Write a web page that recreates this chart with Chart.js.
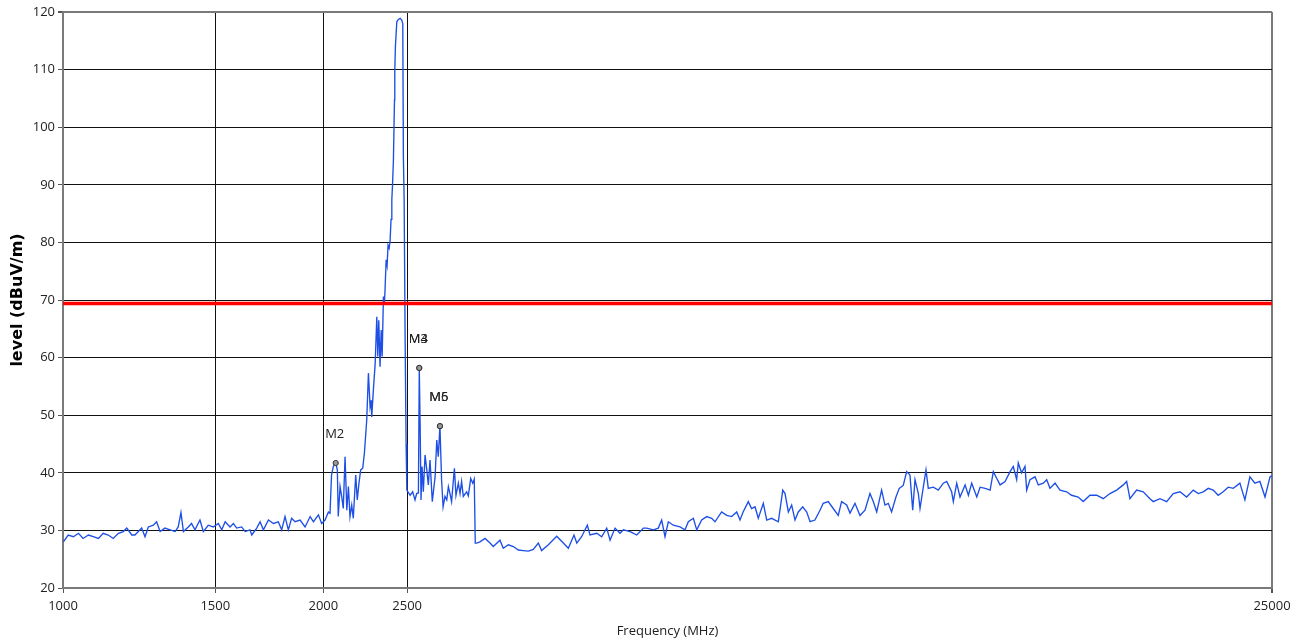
<!DOCTYPE html>
<html><head><meta charset="utf-8">
<script src="https://cdn.jsdelivr.net/npm/chart.js@4"></script>
<style>html,body{margin:0;padding:0;background:#fff;}#wrap{width:1303px;height:643px;}</style>
</head><body><div id="wrap"><canvas id="c" width="1303" height="643"></canvas></div>
<script>
const freqMHz = [
1001,1014,1028,1042,1055,1070,1084,1099,1113,1128,1143,1159,1174,1185,1201,1211,1222,1233,1244,1255,
1272,1283,1295,1312,1330,1348,1359,1369,1378,1396,1408,1421,1440,1453,1472,1492,1512,1526,1540,1560,
1574,1588,1609,1624,1645,1653,1675,1690,1705,1728,1751,1774,1790,1806,1822,1838,1855,1880,1905,1931,
1948,1974,1991,2009,2027,
2036,2044,2054,2067,2076,2081,2091,2100,2109,2119,2129,2138,2147,2157,2166,2180,2189,2199,2209,2221,2231,2245,
2255,2265,2271,2275,2285,2296,2306,2312,2318,2326,2333,2339,2347,2353,2357,2364,2370,2376,2383,2389,2395,2400,
2404,2410,2417,2419,2423,2432,2442,2454,2464,2471,2475,2480,2486,2493,2498,
2520,2537,2553,2564,2576,2582,2588,2594,2601,2610,2622,2634,2645,2657,2673,2693,2705,2716,2728,2740,2751,2765,
2778,2790,2802,2814,2835,2847,2865,2878,2890,2903,2929,2942,2961,2977,2989,2997,
3008,3035,3076,3117,3144,3201,3229,3273,3317,3361,3406,3452,3498,3545,3576,3641,3723,3789,3840,3898,3927,3978,
4039,4068,4142,4196,4253,4291,4348,4406,4446,4526,4607,4689,
4731,4815,4879,4923,4967,5011,5078,5169,5239,5285,5356,5405,5476,5550,5624,5674,5775,5853,5931,6012,6065,6115,
6200,6255,6312,6367,6453,6512,6598,6716,6796,6837,6898,6959,7021,7083,7167,7244,7308,7404,7504,7569,7671,7773,
7878,7948,8057,8128,8237,8347,8459,8572,8648,8727,8842,8921,9000,9080,9186,9267,9366,9452,9535,9605,9664,9750,
9794,9880,9951,10012,10146,10282,10420,10515,10654,10702,
10799,10894,11043,11140,11239,11392,11492,11647,11803,11905,12015,12121,12283,12448,12554,12668,12722,12835,
12952,13010,13125,13302,13419,13599,13722,13843,14030,14217,14470,14660,14924,15123,15396,15674,15952,16239,
16531,16826,16977,17127,17436,17745,18064,18224,18551,18885,19221,19566,19918,20272,20544,20820,21098,21377,
21663,21954,22249,22547,22953,23260,23572,23888,24208,24540,24869,25000
];
const levelDb = [
28.0,29.2,28.9,29.5,28.6,29.2,28.9,28.6,29.5,29.2,28.6,29.5,29.8,30.4,29.2,29.2,29.8,30.4,28.9,30.6,
30.9,31.5,29.8,30.4,30.1,29.8,30.6,33.1,29.8,30.6,31.2,30.1,31.8,29.8,30.9,30.6,31.2,30.1,31.5,30.6,
31.2,30.4,30.6,29.8,30.1,29.2,30.4,31.5,30.1,31.8,31.2,31.5,30.1,32.4,30.1,32.1,31.5,31.8,30.6,32.4,
31.5,32.7,31.2,31.8,33.2,
33.0,39.6,41.1,41.7,40.5,32.4,37.6,35.9,33.8,42.8,33.5,37.6,32.4,34.4,32.1,39.6,35.3,38.2,40.5,40.8,43.4,49.2,
57.3,51.5,52.6,49.7,54.4,59.0,67.1,60.2,66.5,58.4,64.8,60.2,70.6,69.4,71.7,77.0,76.0,79.5,79.0,80.3,84.0,87.4,
89.7,94.0,104.7,109.9,114.0,118.3,118.7,118.9,118.6,118.0,94.9,87.4,65.0,45.0,37.0,
36.1,36.7,35.3,36.4,36.5,58.2,48.0,35.3,41.1,36.7,43.1,40.5,37.9,42.2,35.0,39.3,45.7,42.8,48.1,38.8,34.1,35.9,
35.3,37.6,36.4,35.0,40.8,36.1,38.2,36.4,38.5,35.9,36.7,36.0,39.0,38.2,38.9,27.8,
27.8,28.0,28.6,27.8,27.2,28.3,26.9,27.5,27.2,26.6,26.5,26.4,26.7,27.8,26.5,27.5,29.0,27.8,26.9,29.2,27.8,28.9,
30.9,29.2,29.5,28.9,30.4,28.3,30.4,29.5,30.1,29.8,29.2,30.4,
30.4,30.1,30.4,31.8,28.9,31.5,30.9,30.6,30.1,31.5,32.1,30.1,31.8,32.4,32.1,31.5,33.2,32.6,32.4,33.2,31.8,33.2,
35.0,33.8,34.1,32.1,34.7,31.8,32.1,31.5,37.0,36.4,33.2,34.4,31.8,33.2,34.1,33.2,31.5,31.8,33.5,34.7,35.0,33.8,
32.6,35.0,34.4,33.0,34.7,32.6,33.5,36.4,35.0,33.2,37.0,34.4,34.7,33.2,35.8,37.3,37.8,40.2,39.6,33.5,38.8,36.4,
33.8,37.5,40.5,37.3,37.5,37.0,38.2,38.5,36.7,35.0,
38.2,35.8,37.9,36.1,38.2,35.8,37.5,37.3,37.0,40.2,39.0,37.9,38.5,40.2,41.1,38.8,41.7,40.0,
41.1,37.0,38.8,39.3,37.9,38.2,38.8,37.3,38.2,37.0,36.7,36.1,35.8,35.0,36.1,36.1,35.5,36.4,
37.0,37.9,38.5,35.5,37.0,36.7,35.5,35.0,35.5,35.0,36.4,36.7,35.8,37.0,36.4,36.7,37.3,37.0,
36.1,36.7,37.5,37.3,38.2,35.3,39.3,38.2,38.5,35.8,39.3,39.5
];
const limitFreq = [1000, 25000];
const limitLevel = [69.4, 69.4];
const markerFreq = [2067, 2582, 2582, 2728, 2728];
const markerLevel = [41.7, 58.2, 58.2, 48.1, 48.1];
const markerLabel = ['M2', 'M3', 'M4', 'M5', 'M6'];
const xTicks = [1000, 1500, 2000, 2500, 25000];
const yTicks = [20, 30, 40, 50, 60, 70, 80, 90, 100, 110, 120];

const FONT = "'Open Sans', 'Noto Sans', sans-serif";

const markerLabels = {
  id: 'markerLabels',
  afterDatasetsDraw(chart) {
    const {ctx, scales: {x, y}} = chart;
    ctx.save();
    ctx.font = "13px " + FONT;
    ctx.fillStyle = '#222';
    ctx.textAlign = 'center';
    ctx.textBaseline = 'middle';
    markerFreq.forEach((f, i) => {
      const px = x.getPixelForValue(f);
      const py = y.getPixelForValue(markerLevel[i]);
      ctx.fillText(markerLabel[i], px - 1, py - 29);
    });
    ctx.restore();
  }
};

new Chart(document.getElementById('c'), {
  type: 'line',
  data: {
    datasets: [
      {
        label: 'limit',
        data: limitFreq.map((f, i) => ({x: f, y: limitLevel[i]})),
        borderColor: '#ff0000', borderWidth: 3.5, pointRadius: 0, order: 0
      },
      {
        label: 'markers',
        data: markerFreq.map((f, i) => ({x: f, y: markerLevel[i]})),
        showLine: false, pointRadius: 2.6, pointBackgroundColor: '#9a9a9a',
        pointBorderColor: '#333', pointBorderWidth: 1, order: 1
      },
      {
        label: 'trace',
        data: freqMHz.map((f, i) => ({x: f, y: levelDb[i]})),
        borderColor: '#1d4fe6', borderWidth: 1.35, pointRadius: 0, tension: 0, order: 2
      }
    ]
  },
  options: {
    responsive: false, animation: false, devicePixelRatio: 1,
    layout: {padding: {top: 12, right: 31, left: 0, bottom: 0}},
    plugins: {legend: {display: false}, tooltip: {enabled: false}},
    scales: {
      x: {
        type: 'logarithmic', min: 1000, max: 25000,
        afterBuildTicks: s => { s.ticks = xTicks.map(v => ({value: v})); },
        afterFit: s => { s.height = 55; },
        ticks: {autoSkip: false, maxRotation: 0, padding: 5, color: '#222',
                font: {family: FONT, size: 13}, callback: v => String(v)},
        grid: {
          color: c => (c.tick && c.tick.value === 25000) ? '#7a7a7a' : '#111',
          lineWidth: c => (c.tick && c.tick.value === 25000) ? 2 : 1,
          tickLength: 5, tickColor: '#555'
        },
        border: {color: '#7a7a7a', width: 2},
        title: {display: true, text: 'Frequency (MHz)', color: '#222',
                font: {family: FONT, size: 13}, padding: {top: 0, bottom: 4}}
      },
      y: {
        type: 'linear', min: 20, max: 120,
        afterBuildTicks: s => { s.ticks = yTicks.map(v => ({value: v})); },
        afterFit: s => { s.width = 63; },
        ticks: {padding: 3, color: '#222', font: {family: FONT, size: 13}},
        grid: {
          color: c => (c.tick && c.tick.value === 120) ? '#7a7a7a' : '#111',
          lineWidth: c => (c.tick && c.tick.value === 120) ? 2 : 1,
          tickLength: 5, tickColor: '#555'
        },
        border: {color: '#7a7a7a', width: 2},
        title: {display: true, text: 'level (dBuV/m)', color: '#000',
                font: {family: "'DejaVu Sans', sans-serif", size: 16, weight: 'bold'}, padding: {top: 8, bottom: 0}}
      }
    }
  },
  plugins: [markerLabels]
});
</script>
</body></html>
